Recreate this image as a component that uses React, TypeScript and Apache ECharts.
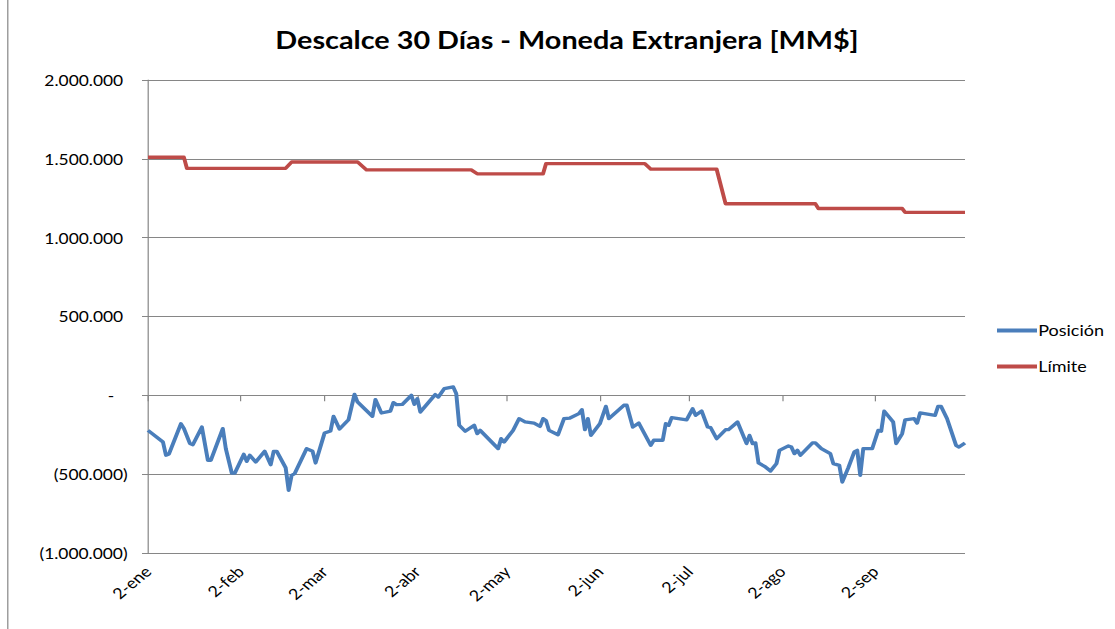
import React, { useEffect, useRef } from "react";
import * as echarts from "echarts";

// Day offsets counted from 2-ene
const tickDays = [0, 31, 59, 90, 120, 151, 181, 212, 243];
const tickLabels = ["2-ene", "2-feb", "2-mar", "2-abr", "2-may", "2-jun", "2-jul", "2-ago", "2-sep"];

const posicionDays = [
  0, 5, 6, 7, 11, 12, 14, 15, 18, 20, 21, 25, 26, 28, 29, 32, 33, 34, 36, 39, 41, 42, 43, 46, 47, 48, 49,
  53, 55, 56, 59, 61, 62, 64, 67, 69, 70, 75, 76, 78, 81, 82, 83, 85, 88, 89, 90, 91, 96, 97, 99, 102,
  103, 104, 106, 109, 110, 111, 117, 118, 119, 122, 124, 126, 129, 131, 132, 133, 134, 137, 139, 141,
  144, 145, 146, 147, 148, 151, 153, 154, 159, 160, 162, 164, 168, 169, 172, 173, 174, 175, 180, 182,
  183, 185, 187, 188, 190, 193, 194, 197, 200, 201, 202, 203, 204, 206, 208, 210, 211, 214, 215, 216,
  217, 218, 222, 223, 225, 228, 229, 231, 232, 234, 236, 237, 238, 239, 242, 244, 245, 246, 249, 250,
  252, 253, 256, 257, 258, 263, 264, 265, 267, 270, 271, 273,
];
const posicionValues = [
  -222000, -296000, -380000, -372000, -180000, -211000, -306000, -313000, -201000, -412000, -412000,
  -211000, -338000, -493000, -493000, -374000, -419000, -380000, -423000, -355000, -440000, -355000,
  -355000, -459000, -602000, -507000, -497000, -338000, -355000, -429000, -239000, -226000, -133000,
  -214000, -155000, 6000, -42000, -133000, -27000, -112000, -100000, -46000, -59000, -57000, 0, -57000,
  -21000, -106000, 5000, -11000, 42000, 53000, 11000, -190000, -228000, -190000, -243000, -222000,
  -338000, -275000, -296000, -222000, -148000, -169000, -176000, -197000, -148000, -160000, -222000,
  -250000, -148000, -144000, -116000, -91000, -218000, -148000, -254000, -180000, -70000, -148000,
  -63000, -63000, -201000, -176000, -317000, -285000, -285000, -180000, -190000, -141000, -155000,
  -85000, -127000, -100000, -201000, -205000, -275000, -218000, -218000, -169000, -306000, -254000,
  -306000, -302000, -429000, -450000, -480000, -433000, -349000, -321000, -328000, -370000, -349000,
  -380000, -302000, -302000, -338000, -370000, -433000, -444000, -550000, -459000, -359000, -349000,
  -507000, -338000, -338000, -222000, -228000, -100000, -169000, -306000, -243000, -155000, -148000,
  -176000, -112000, -127000, -70000, -70000, -148000, -317000, -328000, -302000,
];

const limiteDays = [0, 12, 13, 46, 48, 70, 73, 108, 110, 132, 133, 166, 168, 190, 193, 223, 224, 252, 253, 273];
const limiteValues = [
  1510000, 1510000, 1440000, 1440000, 1480000, 1480000, 1430000, 1430000, 1405000, 1405000, 1470000,
  1470000, 1435000, 1435000, 1215000, 1215000, 1185000, 1185000, 1160000, 1160000,
];

const FONT = "Lato";
const GRID_COLOR = "#868686";
// The reference picture is stretched horizontally; the chart is drawn narrower and scaled.
const PAGE_W = 1115;
const PAGE_H = 629;
const SX = 1.2;
const W = PAGE_W / SX;

function fmtThousands(n: number): string {
  return Math.round(n).toString().replace(/\B(?=(\d{3})+(?!\d))/g, ".");
}

export default function App() {
  const ref = useRef<HTMLDivElement>(null);
  useEffect(() => {
    if (!ref.current) return;
    const chart = echarts.init(ref.current, null, { renderer: "svg", width: W, height: PAGE_H });
    const xBase = { type: "value", min: 0, max: 273, gridIndex: 0 } as any;
    chart.setOption({
      animation: false,
      backgroundColor: "#ffffff",
      title: {
        text: "Descalce 30 Días - Moneda Extranjera [MM$]",
        left: 561 / SX,
        top: 23,
        textAlign: "center",
        textStyle: { fontFamily: FONT, fontWeight: "bold", fontSize: 24, color: "#000" },
      },
      legend: {
        data: ["Posición", "Límite"],
        orient: "vertical",
        left: 991 / SX,
        top: 318,
        itemWidth: 40 / SX,
        itemHeight: 4,
        itemGap: 21,
        icon: "rect",
        textStyle: { fontFamily: FONT, fontSize: 15, color: "#000", padding: [0, 0, 0, -4] },
      },
      grid: { left: 148 / SX, right: 150 / SX, top: 80, bottom: 76, outerBoundsMode: "none" } as any,
      xAxis: [
        {
          ...xBase,
          position: "bottom",
          axisLine: { show: false, onZero: false },
          axisTick: { show: false },
          splitLine: { show: false },
          axisLabel: {
            customValues: tickDays,
            rotate: 45,
            margin: 16,
            fontFamily: FONT,
            fontSize: 15,
            color: "#000",
            formatter: (v: number) => {
              const i = tickDays.indexOf(Math.round(v));
              return i >= 0 ? tickLabels[i] : "";
            },
          },
        },
        {
          ...xBase,
          position: "bottom",
          axisLine: { show: true, onZero: true, lineStyle: { color: GRID_COLOR, width: 1 } },
          axisTick: { show: true, customValues: tickDays, length: 6, inside: false, lineStyle: { color: GRID_COLOR } },
          axisLabel: { show: false },
          splitLine: { show: false },
        },
      ],
      yAxis: {
        type: "value",
        min: -1000000,
        max: 2000000,
        interval: 500000,
        axisLine: { show: true, lineStyle: { color: GRID_COLOR, width: 1 } },
        axisTick: { show: true, length: 5, lineStyle: { color: GRID_COLOR } },
        splitLine: { show: true, lineStyle: { color: GRID_COLOR, width: 1 } },
        axisLabel: {
          margin: 17,
          fontFamily: FONT,
          fontSize: 14.5,
          color: "#000",
          formatter: (v: number) => {
            if (v === 0) return "-   ";
            if (v < 0) return "(" + fmtThousands(-v) + ")";
            return fmtThousands(v) + " ";
          },
        },
      },
      graphic: [
        {
          type: "line",
          shape: { x1: 6.5, y1: 0, x2: 6.5, y2: PAGE_H },
          style: { stroke: GRID_COLOR, lineWidth: 1 },
        },
      ],
      series: [
        {
          name: "Posición",
          type: "line",
          xAxisIndex: 0,
          yAxisIndex: 0,
          symbol: "none",
          data: posicionDays.map((d, i) => [d, posicionValues[i]]),
          lineStyle: { color: "#4A7EBB", width: 3.3, join: "round" },
          itemStyle: { color: "#4A7EBB" },
        },
        {
          name: "Límite",
          type: "line",
          xAxisIndex: 0,
          yAxisIndex: 0,
          symbol: "none",
          data: limiteDays.map((d, i) => [d, limiteValues[i]]),
          lineStyle: { color: "#BE4B48", width: 3.3, join: "round" },
          itemStyle: { color: "#BE4B48" },
        },
      ],
    });
    return () => chart.dispose();
  }, []);
  return (
    <div
      style={{ position: "fixed", left: 0, top: 0, width: PAGE_W, height: PAGE_H, background: "#fff", overflow: "hidden" }}
    >
      <div
        ref={ref}
        style={{
          width: W,
          height: PAGE_H,
          transform: `scaleX(${SX})`,
          transformOrigin: "0 0",
        }}
      />
    </div>
  );
}
